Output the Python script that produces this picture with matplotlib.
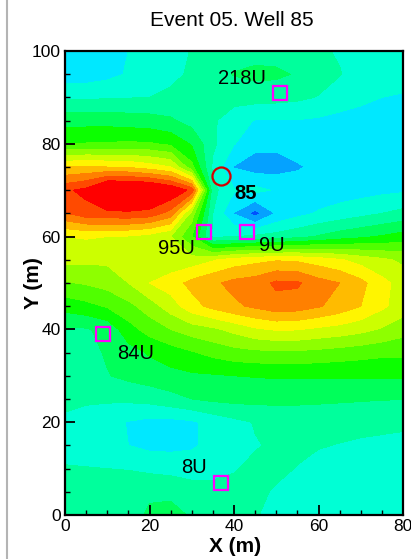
import numpy as np
import matplotlib
matplotlib.use('Agg')
import matplotlib.pyplot as plt
from matplotlib.ticker import MultipleLocator
from matplotlib.lines import Line2D

plt.rcParams['font.family'] = ['Liberation Sans', 'DejaVu Sans']

# grid of the contoured field (band units)
x_grid = [0, 5, 10, 15, 20, 25, 30, 35, 40, 45, 50, 55, 60, 65, 70, 75, 80]
y_grid = [100, 95, 90, 85, 80, 75, 70, 65, 60, 55, 50, 45, 40, 35, 30, 25, 20, 15, 10, 5, 0]
field = [
    [2.4, 2.45, 2.6, 3.0, 3.3, 3.6, 4.05, 4.3, 4.5, 4.6, 4.55, 4.4, 4.15, 3.9, 3.6, 3.4, 3.3],
    [2.4, 2.45, 2.7, 3.1, 3.4, 3.75, 4.15, 4.6, 5.05, 5.25, 5.2, 4.9, 4.4, 4.05, 3.6, 3.35, 3.2],
    [3.85, 3.85, 3.9, 3.95, 4.0, 4.2, 4.4, 4.5, 4.4, 4.4, 4.35, 4.2, 3.95, 3.5, 3.2, 3.0, 2.95],
    [5.6, 5.6, 5.6, 5.5, 5.4, 5.15, 4.6, 4.15, 3.4, 2.95, 2.9, 2.95, 2.85, 2.7, 2.65, 2.6, 2.6],
    [7.0, 7.05, 7.1, 7.15, 7.1, 6.8, 5.9, 4.2, 3.05, 2.3, 2.25, 2.4, 2.5, 2.5, 2.55, 2.6, 2.6],
    [11.0, 11.1, 11.0, 10.9, 10.5, 10.0, 7.3, 3.8, 1.95, 1.5, 1.55, 1.9, 2.2, 2.3, 2.4, 2.5, 2.5],
    [13.8, 14.3, 16.0, 16.0, 15.8, 15.0, 13.7, 4.3, 3.1, 3.3, 2.9, 2.5, 2.4, 2.5, 2.6, 2.75, 2.85],
    [12.9, 13.6, 13.7, 13.8, 13.6, 12.6, 8.6, 4.0, 1.95, 0.6, 2.1, 2.7, 3.1, 3.4, 3.7, 4.0, 4.3],
    [10.0, 10.1, 10.0, 9.9, 9.6, 9.0, 7.0, 3.8, 4.0, 4.2, 4.4, 4.7, 5.1, 5.5, 5.8, 6.1, 6.4],
    [9.3, 9.2, 9.2, 9.2, 9.3, 9.3, 9.4, 9.9, 10.4, 10.7, 10.9, 10.8, 10.5, 10.1, 9.6, 9.2, 8.8],
    [7.9, 8.1, 8.4, 9.0, 10.0, 10.5, 11.3, 11.8, 12.3, 12.5, 13.2, 13.15, 12.4, 12.0, 11.3, 10.3, 9.6],
    [6.4, 6.7, 7.1, 7.7, 8.5, 9.5, 10.6, 11.3, 11.8, 12.2, 12.6, 12.5, 12.1, 11.6, 11.0, 10.2, 9.5],
    [4.85, 4.9, 5.3, 6.6, 7.4, 8.0, 8.5, 8.8, 9.3, 9.85, 10.1, 10.05, 9.8, 9.6, 9.3, 8.9, 8.4],
    [4.5, 4.7, 5.1, 5.6, 6.1, 6.5, 6.9, 7.3, 7.6, 7.75, 7.8, 7.8, 7.7, 7.55, 7.4, 7.25, 7.2],
    [4.4, 4.55, 4.95, 5.25, 5.5, 5.7, 5.85, 5.9, 6.0, 6.05, 6.1, 6.1, 6.1, 6.1, 6.1, 6.1, 6.15],
    [4.2, 4.15, 4.15, 4.2, 4.35, 4.65, 5.0, 5.2, 5.3, 5.3, 5.3, 5.25, 5.2, 5.15, 5.1, 5.05, 5.02],
    [3.85, 3.6, 3.3, 2.95, 2.7, 2.7, 2.85, 3.35, 3.75, 4.05, 4.2, 4.3, 4.3, 4.25, 4.2, 4.15, 4.1],
    [3.5, 3.4, 3.2, 3.0, 2.75, 2.75, 2.85, 3.3, 3.6, 3.95, 4.1, 4.1, 4.05, 3.97, 3.9, 3.87, 3.85],
    [4.1, 4.05, 4.0, 3.95, 3.75, 3.6, 3.6, 3.7, 3.95, 4.15, 4.1, 3.98, 3.75, 3.6, 3.5, 3.45, 3.45],
    [4.3, 4.35, 4.45, 4.6, 4.9, 4.9, 4.4, 4.3, 4.2, 4.1, 3.95, 3.7, 3.5, 3.4, 3.35, 3.3, 3.3],
    [4.4, 4.45, 4.55, 4.75, 5.1, 5.15, 4.95, 4.5, 4.25, 4.05, 3.8, 3.55, 3.4, 3.3, 3.25, 3.2, 3.2],
]

# contour bands and their colours
levels = [-5, 1, 2, 3, 4, 5, 6, 7, 8, 9, 10, 11, 12, 13, 14, 30]
band_colors = ['#0050ff', '#05a2ff', '#00e8ff', '#00ffd5', '#00ff9c', '#00ff5a',
               '#0cff00', '#50ff00', '#8eff00', '#ccff00', '#fff500', '#ffbb00',
               '#ff8000', '#ff4a00', '#ff0000']

# observation wells
well_names = ['218U', '95U', '9U', '84U', '8U']
well_x = [51, 33, 43, 9, 37]
well_y = [91, 61, 61, 39, 7]
label_x = [41.9, 26.3, 49.0, 16.6, 30.5]
label_y = [94.0, 57.5, 58.0, 34.7, 10.3]

# pumping well
main_name = '85'
main_x, main_y = 37, 73
main_label_xy = (42.8, 69.2)

fig = plt.figure(figsize=(4.11, 5.59), dpi=100)
ax = fig.add_axes([65/411, 44/559, 338/411, 464/559])

X, Y = np.meshgrid(x_grid, y_grid[::-1])
Z = np.array(field)[::-1]
ax.contourf(X, Y, Z, levels=levels, colors=band_colors, antialiased=False)

ax.plot(well_x, well_y, 's', mfc='none', mec='#ff00ff', ms=9.5, mew=1.6)
for n, tx, ty in zip(well_names, label_x, label_y):
    ax.text(tx, ty, n, fontsize=14.5, ha='center', va='center')
ax.plot([main_x], [main_y], 'o', mfc='none', mec='#d40000', ms=13, mew=1.6)
ax.text(*main_label_xy, main_name, fontsize=14.5, fontweight='bold',
        ha='center', va='center')

ax.set_xlim(0, 80)
ax.set_ylim(0, 100)
ax.set_xticks([0, 20, 40, 60, 80])
ax.set_yticks([0, 20, 40, 60, 80, 100])
ax.xaxis.set_minor_locator(MultipleLocator(5))
ax.yaxis.set_minor_locator(MultipleLocator(5))
ax.tick_params(which='major', direction='in', length=7.5, width=1.3,
               labelsize=12.5, pad=3)
ax.tick_params(which='minor', direction='in', length=3.5, width=1.0)
for s in ax.spines.values():
    s.set_linewidth(1.6)

fig.text(232/411, 1 - 20/559, 'Event 05. Well 85', fontsize=15,
         ha='center', va='center')
fig.text(235/411, 1 - 546/559, 'X (m)', fontsize=15, fontweight='bold',
         ha='center', va='center')
fig.text(33/411, 1 - 283/559, 'Y (m)', fontsize=15, fontweight='bold',
         ha='center', va='center', rotation=90)
fig.add_artist(Line2D([7/411, 7/411], [0, 1], color='#b4b4b4', lw=1.5))

fig.savefig('out.png', dpi=100)
